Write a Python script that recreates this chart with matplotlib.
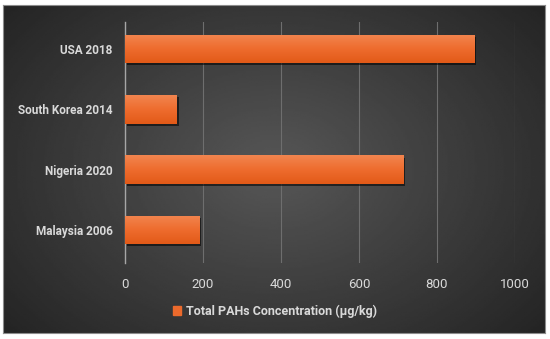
import numpy as np
import matplotlib
matplotlib.use("Agg")
import matplotlib.pyplot as plt
import matplotlib.patheffects as pe
from matplotlib.colors import LinearSegmentedColormap
from matplotlib.patches import Rectangle

countries = ["Malaysia 2006", "Nigeria 2020", "South Korea 2014", "USA 2018"]
concentrations = [190, 713, 133, 895]
xTicks = [0, 200, 400, 600, 800, 1000]
seriesName = "Total PAHs Concentration (µg/kg)"

barColor = "#EC6A2C"
textColor = "#D9D9D9"

plt.rcParams["font.family"] = ["Roboto", "DejaVu Sans"]

fig = plt.figure(figsize=(5.5, 3.39), dpi=100)
fig.patch.set_facecolor("white")

# dark radial background panel
bgAx = fig.add_axes([3 / 550, 6 / 339, 542 / 550, 328 / 339])
gy, gx = np.mgrid[-1:1:200j, -1:1:300j]
radius = np.sqrt((gx * 0.95) ** 2 + (gy * 0.8) ** 2)
shade = np.clip(0.34 - 0.16 * radius, 0, 1)
bgAx.imshow(shade, cmap="gray", vmin=0, vmax=1, aspect="auto", extent=[0, 1, 0, 1])
bgAx.set_xlim(0, 1)
bgAx.set_ylim(0, 1)
bgAx.set_xticks([])
bgAx.set_yticks([])
for spine in bgAx.spines.values():
    spine.set_color("#8c8c8c")
    spine.set_linewidth(0.8)

ax = fig.add_axes([125 / 550, 1 - 263 / 339, 390 / 550, 241 / 339])
ax.set_facecolor("none")
yPos = np.arange(len(countries))
bars = ax.barh(yPos, concentrations, height=0.47, color=barColor, zorder=3)

# vertical gradient inside every bar
barCmap = LinearSegmentedColormap.from_list("barGrad", ["#E25A18", "#EE6C2E", "#F2854F"])
gradient = np.linspace(0, 1, 64).reshape(-1, 1)
for bar in bars:
    bar.set_path_effects([pe.SimplePatchShadow(offset=(1.2, -1.5), shadow_rgbFace="black", alpha=0.55), pe.Normal()])
    x0, y0 = bar.get_x(), bar.get_y()
    img = ax.imshow(gradient, cmap=barCmap, aspect="auto", origin="lower",
                    extent=[x0, x0 + bar.get_width(), y0, y0 + bar.get_height()], zorder=4)
    img.set_clip_path(bar)

ax.set_xlim(0, 1000)
ax.set_ylim(-0.55, 3.45)
ax.set_xticks(xTicks)
ax.set_yticks(yPos)
ax.set_yticklabels(countries, fontweight="bold", fontsize=8.5)
ax.tick_params(axis="both", length=0, colors=textColor)
ax.tick_params(axis="x", pad=11, labelsize=9.5)
ax.tick_params(axis="y", pad=9)
ax.grid(axis="x", color="#6E6E6E", linewidth=0.8, zorder=0)
for side in ["top", "right", "bottom"]:
    ax.spines[side].set_visible(False)
ax.spines["left"].set_color("#A6A6A6")
ax.spines["left"].set_linewidth(1.0)

legendHandle = Rectangle((0, 0), 1, 1, color=barColor)
fig.legend([legendHandle], [seriesName], loc="center", bbox_to_anchor=(0.5, 1 - 311 / 339),
           frameon=False, handlelength=0.7, handleheight=0.7, handletextpad=0.4,
           prop={"weight": "bold", "size": 9}, labelcolor=textColor)

fig.savefig("out.png", dpi=100)
